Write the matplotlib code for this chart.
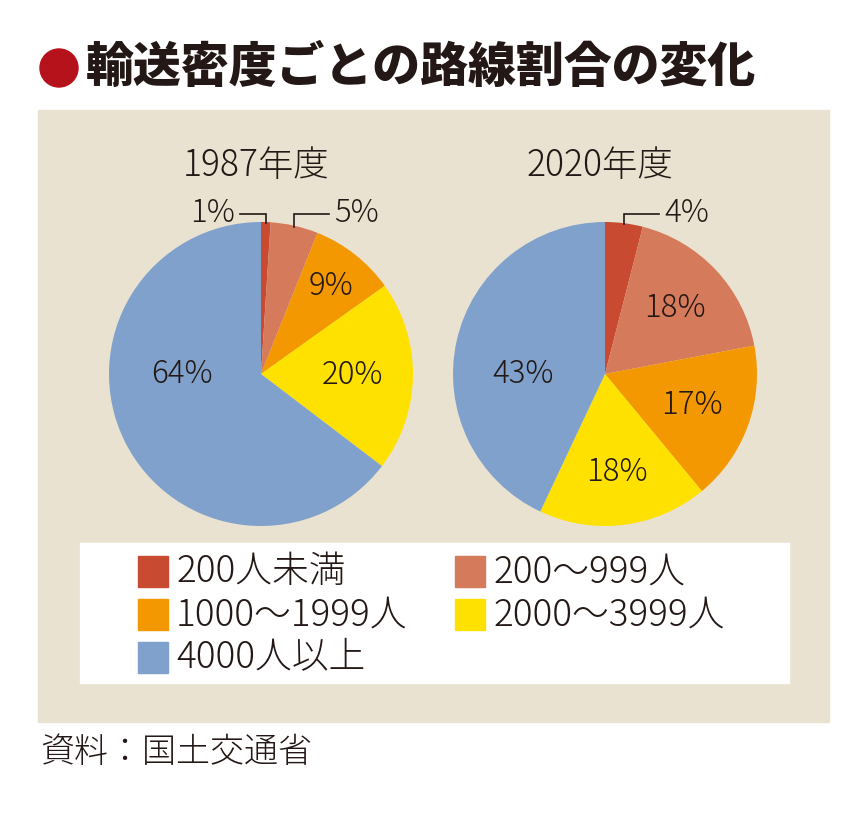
import numpy as np
import matplotlib
matplotlib.use('Agg')
import matplotlib.pyplot as plt
from matplotlib.patches import Rectangle, Circle

plt.rcParams['font.family'] = ['Noto Sans CJK JP', 'DejaVu Sans']

title = '輸送密度ごとの路線割合の変化'
source = '資料：国土交通省'
categories = ['200人未満', '200〜999人', '1000〜1999人', '2000〜3999人', '4000人以上']
colors = ['#C84B31', '#D57A5A', '#F39800', '#FFE100', '#7FA1CB']
years = ['1987年度', '2020年度']
share_1987 = [1, 5, 9, 20, 64]
share_2020 = [4, 18, 17, 18, 43]

W, H = 868, 813
ink = '#231815'
lw_txt = 'light'

fig = plt.figure(figsize=(W / 100, H / 100), dpi=100)
ax = fig.add_axes([0, 0, 1, 1])

def py(y):
    return H - y

# background panel
ax.add_patch(Rectangle((38, py(722)), 791, 612, color='#E9E2D0', zorder=0))
ax.add_patch(Rectangle((80, py(683)), 709, 140, color='white', zorder=1))

# title
ax.add_patch(Circle((59, py(68)), 19, color='#B5121B', zorder=2))
ax.text(86, py(68), title, fontsize=34.5, fontweight='black', color=ink,
        ha='left', va='center')

R = 152
centers = [(261, 374), (605, 374)]
# label distance (fraction of radius) per wedge, None = leader line outside
label_dist = [[None, None, 0.74, 0.6, 0.52], [None, 0.63, 0.61, 0.65, 0.54]]
leader_side = [[-1, 1, 0, 0, 0], [1, 0, 0, 0, 0]]

for k, vals in enumerate([share_1987, share_2020]):
    cx, cy = centers[k]
    wedges, _ = ax.pie(vals, colors=colors, startangle=90, counterclock=False,
                       center=(cx, py(cy)), radius=R,
                       wedgeprops=dict(linewidth=0))
    ax.text(cx - 5, py(166), years[k], fontsize=25.5, fontweight=lw_txt,
            color=ink, ha='center', va='center')
    for i, w in enumerate(wedges):
        mid = np.deg2rad((w.theta1 + w.theta2) / 2)
        lab = f'{vals[i]}%'
        d = label_dist[k][i]
        if d is not None:
            if i == 4:
                mid = np.pi  # big wedge label sits at the left
            ax.text(cx + d * R * np.cos(mid), py(cy) + d * R * np.sin(mid), lab,
                    fontsize=22.5, fontweight=lw_txt, color=ink,
                    ha='center', va='center')
        else:
            side = leader_side[k][i]
            x0 = cx + R * np.cos(mid)
            y0 = py(cy) + R * np.sin(mid)
            ytop = py(214)
            x1 = x0 + side * (26 if side < 0 else 35)
            ax.plot([x0, x0, x1], [y0 - 1, ytop, ytop], color=ink, lw=1.2,
                    solid_joinstyle='miter')
            ax.text(x1 + side * 5, ytop + 1, lab, fontsize=22.5, fontweight=lw_txt,
                    color=ink, ha='left' if side > 0 else 'right', va='center')

# legend
leg_x = [138, 455]
leg_y = [572, 615, 658]
for i, (cat, col) in enumerate(zip(categories, colors)):
    lx = leg_x[i % 2]
    ly = leg_y[i // 2]
    ax.add_patch(Rectangle((lx, py(ly) - 15), 30, 31, color=col, zorder=2))
    ax.text(lx + 38, py(ly), cat, fontsize=26.5, fontweight=lw_txt, color=ink,
            ha='left', va='center', zorder=3)

ax.text(40, py(752), source, fontsize=24.5, fontweight=lw_txt, color=ink,
        ha='left', va='center')

ax.set_xlim(0, W)
ax.set_ylim(0, H)
ax.set_aspect('auto')
ax.axis('off')
fig.savefig('out.png', dpi=100)
